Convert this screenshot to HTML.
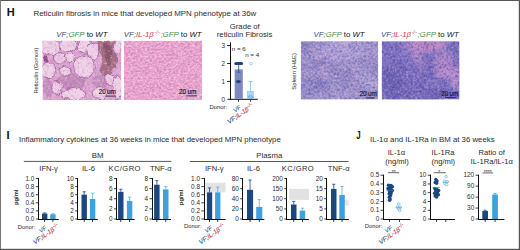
<!DOCTYPE html>
<html><head><meta charset="utf-8"><style>
html,body{margin:0;padding:0;background:#fff;width:520px;height:250px;overflow:hidden}
svg{display:block}
text{font-family:"Liberation Sans",sans-serif}
</style></head><body>
<svg xmlns="http://www.w3.org/2000/svg" width="520" height="250" viewBox="0 0 520 250">
<rect width="520" height="250" fill="#fff"/>
<rect x="0" y="0" width="520" height="1" fill="#555"/>
<rect x="0" y="0" width="1" height="250" fill="#777"/>
<rect x="518.8" y="0" width="1.2" height="250" fill="#555"/>
<rect x="0" y="248.8" width="520" height="1.2" fill="#555"/>
<text x="6.8" y="16.1" font-size="11" text-anchor="start" fill="#111" font-weight="bold"  >H</text>
<text x="33.5" y="15.8" font-size="7.9" text-anchor="start" fill="#2a2a2a" font-weight="normal"  >Reticulin fibrosis in mice that developed MPN phenotype at 36w</text>
<text x="56.3" y="36.6" font-size="7.8" fill="#2a2a2a"><tspan font-style="italic" fill="#34507e">VF;</tspan><tspan font-style="italic" fill="#3f8f48">GFP</tspan><tspan fill="#111"> to </tspan><tspan font-style="italic" fill="#111">WT</tspan></text>
<text x="123.8" y="37.2" font-size="7.8" fill="#2a2a2a"><tspan font-style="italic" fill="#34507e">VF;</tspan><tspan font-style="italic" fill="#c83a54">IL-1β</tspan><tspan font-style="italic" fill="#c83a54" font-size="5" dx="0.6" dy="-3.6" letter-spacing="0.3">-/-</tspan><tspan font-style="italic" fill="#3f8f48" dx="0.4" dy="3.6">;GFP</tspan><tspan fill="#111"> to </tspan><tspan font-style="italic" fill="#111">WT</tspan></text>
<text x="313.5" y="36.6" font-size="7.8" fill="#2a2a2a"><tspan font-style="italic" fill="#34507e">VF;</tspan><tspan font-style="italic" fill="#3f8f48">GFP</tspan><tspan fill="#111"> to </tspan><tspan font-style="italic" fill="#111">WT</tspan></text>
<text x="381" y="37.2" font-size="7.8" fill="#2a2a2a"><tspan font-style="italic" fill="#34507e">VF;</tspan><tspan font-style="italic" fill="#c83a54">IL-1β</tspan><tspan font-style="italic" fill="#c83a54" font-size="5" dx="0.6" dy="-3.6" letter-spacing="0.3">-/-</tspan><tspan font-style="italic" fill="#3f8f48" dx="0.4" dy="3.6">;GFP</tspan><tspan fill="#111"> to </tspan><tspan font-style="italic" fill="#111">WT</tspan></text>
<text transform="translate(38.3,70.6) rotate(-90)" font-size="5.7" text-anchor="middle" fill="#2a2a2a">Reticulin (Gomori)</text>
<text transform="translate(295.8,71.3) rotate(-90)" font-size="6.0" text-anchor="middle" fill="#2a2a2a">Spleen (H&amp;E)</text>
<defs><clipPath id="cr1"><rect x="42.4" y="40.8" width="78.8" height="59.2"/></clipPath>
<filter id="fr1" x="0" y="0" width="100%" height="100%" color-interpolation-filters="sRGB">
<feTurbulence type="fractalNoise" baseFrequency="0.4" numOctaves="2" seed="3" result="n"/>
<feColorMatrix type="matrix" in="n" values="0 0 0 0 0  0 0 0 0 0  0 0 0 0 0  1.2 0 0 0 -0.6" result="a1"/>
<feColorMatrix type="matrix" in="n" values="0 0 0 0 0  0 0 0 0 0  0 0 0 0 0  -1.2 0 0 0 0.6" result="a2"/>
<feFlood flood-color="#f6daee" result="cl"/>
<feComposite in="cl" in2="a1" operator="in" result="L"/>
<feFlood flood-color="#b070a6" result="cd"/>
<feComposite in="cd" in2="a2" operator="in" result="D"/>
<feMerge result="m1"><feMergeNode in="SourceGraphic"/><feMergeNode in="L"/><feMergeNode in="D"/></feMerge>
<feTurbulence type="fractalNoise" baseFrequency="0.09" numOctaves="3" seed="14" result="n2"/>
<feColorMatrix type="matrix" in="n2" values="0 0 0 0 0  0 0 0 0 0  0 0 0 0 0  0.5 0 0 0 -0.25" result="b1"/>
<feColorMatrix type="matrix" in="n2" values="0 0 0 0 0  0 0 0 0 0  0 0 0 0 0  -0.5 0 0 0 0.25" result="b2"/>
<feComposite in="cl" in2="b1" operator="in" result="L2"/>
<feComposite in="cd" in2="b2" operator="in" result="D2"/>
<feMerge><feMergeNode in="m1"/><feMergeNode in="L2"/><feMergeNode in="D2"/></feMerge>
</filter>
<filter id="br1" x="-20%" y="-20%" width="140%" height="140%"><feTurbulence type="fractalNoise" baseFrequency="0.15" numOctaves="2" seed="6" result="dt"/><feDisplacementMap in="SourceGraphic" in2="dt" scale="5" xChannelSelector="R" yChannelSelector="G" result="dd"/><feGaussianBlur in="dd" stdDeviation="0.55"/></filter>
<filter id="hr1" x="-20%" y="-20%" width="140%" height="140%"><feGaussianBlur stdDeviation="0.7"/></filter></defs>
<g clip-path="url(#cr1)"><g filter="url(#fr1)"><rect x="42.4" y="40.8" width="78.8" height="59.2" fill="#dca6d2"/><g filter="url(#br1)"><ellipse cx="72" cy="81" rx="14" ry="8" fill="#c28cba"/><ellipse cx="48" cy="88" rx="5" ry="10" fill="#c48ebc"/><ellipse cx="100" cy="82" rx="8" ry="7" fill="#c690be"/><path d="M96,41 L116,41 L117,60 C116,67 113,72 108,76 C104,77 100,74 100,70 C101,66 103,62 102,57 C100,52 97,47 96,41Z" fill="#a26c7e"/><path d="M103,42 C107,42 111,43 112,48 C113,55 112,62 109,67 C106,63 105,57 104,52 C103,48 103,45 103,42Z" fill="#865064"/><ellipse cx="45.5" cy="59" rx="3.2" ry="3.5" fill="#8a4a88"/><ellipse cx="50" cy="47" rx="10.4" ry="7.8" fill="#f0d2e8" stroke="#a45e9c" stroke-width="0.9"/><ellipse cx="68" cy="45" rx="9.1" ry="6.5" fill="#f0d2e8" stroke="#a45e9c" stroke-width="0.9"/><ellipse cx="60" cy="58" rx="6.5" ry="5.2" fill="#f0d2e8" stroke="#a45e9c" stroke-width="0.9"/><ellipse cx="85" cy="46" rx="7.8" ry="7.2" fill="#f0d2e8" stroke="#a45e9c" stroke-width="0.9"/><ellipse cx="93" cy="51" rx="5.9" ry="8.5" fill="#f0d2e8" stroke="#a45e9c" stroke-width="0.9"/><ellipse cx="84" cy="67" rx="10.4" ry="11.7" fill="#f0d2e8" stroke="#a45e9c" stroke-width="0.9"/><ellipse cx="48" cy="70" rx="7.8" ry="7.8" fill="#f0d2e8" stroke="#a45e9c" stroke-width="0.9"/><ellipse cx="65" cy="71" rx="5.2" ry="5.2" fill="#f0d2e8" stroke="#a45e9c" stroke-width="0.9"/><ellipse cx="110" cy="80" rx="5.2" ry="6.5" fill="#f0d2e8" stroke="#a45e9c" stroke-width="0.9"/><ellipse cx="117.5" cy="87" rx="4.9" ry="11.7" fill="#f0d2e8" stroke="#a45e9c" stroke-width="0.9"/><ellipse cx="74" cy="94" rx="11.7" ry="6.5" fill="#f0d2e8" stroke="#a45e9c" stroke-width="0.9"/><ellipse cx="57" cy="88" rx="5.2" ry="6.5" fill="#f0d2e8" stroke="#a45e9c" stroke-width="0.9"/><ellipse cx="100" cy="93" rx="7.8" ry="6.5" fill="#f0d2e8" stroke="#a45e9c" stroke-width="0.9"/><ellipse cx="117.5" cy="47" rx="3.9" ry="7.8" fill="#f0d2e8" stroke="#a45e9c" stroke-width="0.9"/><ellipse cx="70" cy="57" rx="4.5" ry="4.5" fill="#f0d2e8" stroke="#a45e9c" stroke-width="0.9"/></g><g filter="url(#hr1)"></g></g></g>
<defs><clipPath id="cr2"><rect x="124" y="40.8" width="78" height="59.2"/></clipPath>
<filter id="fr2" x="0" y="0" width="100%" height="100%" color-interpolation-filters="sRGB">
<feTurbulence type="fractalNoise" baseFrequency="0.42 0.55" numOctaves="2" seed="5" result="n"/>
<feColorMatrix type="matrix" in="n" values="0 0 0 0 0  0 0 0 0 0  0 0 0 0 0  2.2 0 0 0 -1.1" result="a1"/>
<feColorMatrix type="matrix" in="n" values="0 0 0 0 0  0 0 0 0 0  0 0 0 0 0  -2.2 0 0 0 1.1" result="a2"/>
<feFlood flood-color="#fcd8ee" result="cl"/>
<feComposite in="cl" in2="a1" operator="in" result="L"/>
<feFlood flood-color="#c674ac" result="cd"/>
<feComposite in="cd" in2="a2" operator="in" result="D"/>
<feMerge result="m1"><feMergeNode in="SourceGraphic"/><feMergeNode in="L"/><feMergeNode in="D"/></feMerge>
<feTurbulence type="fractalNoise" baseFrequency="0.12" numOctaves="3" seed="16" result="n2"/>
<feColorMatrix type="matrix" in="n2" values="0 0 0 0 0  0 0 0 0 0  0 0 0 0 0  0.4 0 0 0 -0.2" result="b1"/>
<feColorMatrix type="matrix" in="n2" values="0 0 0 0 0  0 0 0 0 0  0 0 0 0 0  -0.4 0 0 0 0.2" result="b2"/>
<feComposite in="cl" in2="b1" operator="in" result="L2"/>
<feComposite in="cd" in2="b2" operator="in" result="D2"/>
<feMerge><feMergeNode in="m1"/><feMergeNode in="L2"/><feMergeNode in="D2"/></feMerge>
</filter>
<filter id="br2" x="-20%" y="-20%" width="140%" height="140%"><feTurbulence type="fractalNoise" baseFrequency="0.1" numOctaves="2" seed="8" result="dt"/><feDisplacementMap in="SourceGraphic" in2="dt" scale="0" xChannelSelector="R" yChannelSelector="G" result="dd"/><feGaussianBlur in="dd" stdDeviation="1.2"/></filter>
<filter id="hr2" x="-20%" y="-20%" width="140%" height="140%"><feGaussianBlur stdDeviation="0.7"/></filter></defs>
<g clip-path="url(#cr2)"><g filter="url(#fr2)"><rect x="124" y="40.8" width="78" height="59.2" fill="#e8a4ce"/><g filter="url(#br2)"></g><g filter="url(#hr2)"></g></g></g>
<defs><clipPath id="cs1"><rect x="300.8" y="41.2" width="77.4" height="58.4"/></clipPath>
<filter id="fs1" x="0" y="0" width="100%" height="100%" color-interpolation-filters="sRGB">
<feTurbulence type="fractalNoise" baseFrequency="0.45" numOctaves="2" seed="7" result="n"/>
<feColorMatrix type="matrix" in="n" values="0 0 0 0 0  0 0 0 0 0  0 0 0 0 0  1.7 0 0 0 -0.85" result="a1"/>
<feColorMatrix type="matrix" in="n" values="0 0 0 0 0  0 0 0 0 0  0 0 0 0 0  -1.7 0 0 0 0.85" result="a2"/>
<feFlood flood-color="#e8c2e4" result="cl"/>
<feComposite in="cl" in2="a1" operator="in" result="L"/>
<feFlood flood-color="#5a4ca6" result="cd"/>
<feComposite in="cd" in2="a2" operator="in" result="D"/>
<feMerge result="m1"><feMergeNode in="SourceGraphic"/><feMergeNode in="L"/><feMergeNode in="D"/></feMerge>
<feTurbulence type="fractalNoise" baseFrequency="0.1" numOctaves="3" seed="18" result="n2"/>
<feColorMatrix type="matrix" in="n2" values="0 0 0 0 0  0 0 0 0 0  0 0 0 0 0  0.7 0 0 0 -0.35" result="b1"/>
<feColorMatrix type="matrix" in="n2" values="0 0 0 0 0  0 0 0 0 0  0 0 0 0 0  -0.7 0 0 0 0.35" result="b2"/>
<feComposite in="cl" in2="b1" operator="in" result="L2"/>
<feComposite in="cd" in2="b2" operator="in" result="D2"/>
<feMerge><feMergeNode in="m1"/><feMergeNode in="L2"/><feMergeNode in="D2"/></feMerge>
</filter>
<filter id="bs1" x="-20%" y="-20%" width="140%" height="140%"><feTurbulence type="fractalNoise" baseFrequency="0.1" numOctaves="2" seed="10" result="dt"/><feDisplacementMap in="SourceGraphic" in2="dt" scale="0" xChannelSelector="R" yChannelSelector="G" result="dd"/><feGaussianBlur in="dd" stdDeviation="4"/></filter>
<filter id="hs1" x="-20%" y="-20%" width="140%" height="140%"><feGaussianBlur stdDeviation="0.7"/></filter></defs>
<g clip-path="url(#cs1)"><g filter="url(#fs1)"><rect x="300.8" y="41.2" width="77.4" height="58.4" fill="#9a90c8"/><g filter="url(#bs1)"><ellipse cx="342" cy="50" rx="22" ry="11" fill="#aca0d6"/><ellipse cx="314" cy="86" rx="14" ry="12" fill="#8c84c6"/><ellipse cx="366" cy="80" rx="10" ry="12" fill="#a49cd2"/></g><g filter="url(#hs1)"></g></g></g>
<defs><clipPath id="cs2"><rect x="381.8" y="41.2" width="77.7" height="58.4"/></clipPath>
<filter id="fs2" x="0" y="0" width="100%" height="100%" color-interpolation-filters="sRGB">
<feTurbulence type="fractalNoise" baseFrequency="0.45" numOctaves="2" seed="9" result="n"/>
<feColorMatrix type="matrix" in="n" values="0 0 0 0 0  0 0 0 0 0  0 0 0 0 0  1.6 0 0 0 -0.8" result="a1"/>
<feColorMatrix type="matrix" in="n" values="0 0 0 0 0  0 0 0 0 0  0 0 0 0 0  -1.6 0 0 0 0.8" result="a2"/>
<feFlood flood-color="#cca8e0" result="cl"/>
<feComposite in="cl" in2="a1" operator="in" result="L"/>
<feFlood flood-color="#46389a" result="cd"/>
<feComposite in="cd" in2="a2" operator="in" result="D"/>
<feMerge result="m1"><feMergeNode in="SourceGraphic"/><feMergeNode in="L"/><feMergeNode in="D"/></feMerge>
<feTurbulence type="fractalNoise" baseFrequency="0.1" numOctaves="3" seed="20" result="n2"/>
<feColorMatrix type="matrix" in="n2" values="0 0 0 0 0  0 0 0 0 0  0 0 0 0 0  0.6 0 0 0 -0.3" result="b1"/>
<feColorMatrix type="matrix" in="n2" values="0 0 0 0 0  0 0 0 0 0  0 0 0 0 0  -0.6 0 0 0 0.3" result="b2"/>
<feComposite in="cl" in2="b1" operator="in" result="L2"/>
<feComposite in="cd" in2="b2" operator="in" result="D2"/>
<feMerge><feMergeNode in="m1"/><feMergeNode in="L2"/><feMergeNode in="D2"/></feMerge>
</filter>
<filter id="bs2" x="-20%" y="-20%" width="140%" height="140%"><feTurbulence type="fractalNoise" baseFrequency="0.1" numOctaves="2" seed="12" result="dt"/><feDisplacementMap in="SourceGraphic" in2="dt" scale="0" xChannelSelector="R" yChannelSelector="G" result="dd"/><feGaussianBlur in="dd" stdDeviation="2.5"/></filter>
<filter id="hs2" x="-20%" y="-20%" width="140%" height="140%"><feGaussianBlur stdDeviation="0.7"/></filter></defs>
<g clip-path="url(#cs2)"><g filter="url(#fs2)"><rect x="381.8" y="41.2" width="77.7" height="58.4" fill="#7e72c0"/><g filter="url(#bs2)"><ellipse cx="426" cy="45" rx="20" ry="7" fill="#c890c8"/><path d="M405,41 L414,41 L424,66 L417,68Z" fill="#b089c8"/><ellipse cx="444" cy="66" rx="10" ry="13" fill="#b08ac8"/><ellipse cx="455" cy="78" rx="5" ry="12" fill="#b890cc"/><ellipse cx="394" cy="80" rx="15" ry="20" fill="#6e66b6"/><ellipse cx="420" cy="94" rx="25" ry="7" fill="#7266b6"/><path d="M418,75 L432,60 L436,64 L424,82Z" fill="#7066b6"/></g><g filter="url(#hs2)"></g></g></g>
<text transform="translate(115.9,94.2) scale(1,1.18)" font-size="6.4" text-anchor="end" fill="#1a1430" stroke="#1a1430" stroke-width="0.15">20 um</text>
<rect x="105.8" y="95.6" width="9.900000000000006" height="1" fill="#1a1430" opacity="0.8"/>
<text transform="translate(196.3,93.6) scale(1,1.18)" font-size="6.4" text-anchor="end" fill="#1a1430" stroke="#1a1430" stroke-width="0.15">20 um</text>
<rect x="186.2" y="95.4" width="10.800000000000011" height="1" fill="#1a1430" opacity="0.8"/>
<text transform="translate(376.8,95.8) scale(1,1.18)" font-size="6.4" text-anchor="end" fill="#1a1430" stroke="#1a1430" stroke-width="0.15">20 um</text>
<rect x="365.5" y="97.4" width="9.300000000000011" height="1" fill="#1a1430" opacity="0.8"/>
<text transform="translate(458.4,95.8) scale(1,1.18)" font-size="6.4" text-anchor="end" fill="#1a1430" stroke="#1a1430" stroke-width="0.15">20 um</text>
<rect x="445" y="97.1" width="10.800000000000011" height="1" fill="#1a1430" opacity="0.8"/>
<text x="244.8" y="28.8" font-size="7.7" text-anchor="middle" fill="#2a2a2a" font-weight="normal"  >Grade of</text>
<text x="244.6" y="37.3" font-size="7.7" text-anchor="middle" fill="#2a2a2a" font-weight="normal"  >reticulin Fibrosis</text>
<rect x="230" y="42.4" width="1" height="57.4" fill="#111"/>
<rect x="227.4" y="98.8" width="30.400000000000006" height="1" fill="#111"/>
<text x="225" y="101.5" font-size="6.3" text-anchor="end" fill="#2a2a2a" font-weight="normal"  >0</text>
<rect x="227" y="80.95" width="3" height="0.9" fill="#111"/>
<text x="225" y="83.60000000000001" font-size="6.3" text-anchor="end" fill="#2a2a2a" font-weight="normal"  >1</text>
<rect x="227" y="63.05" width="3" height="0.9" fill="#111"/>
<text x="225" y="65.7" font-size="6.3" text-anchor="end" fill="#2a2a2a" font-weight="normal"  >2</text>
<rect x="227" y="45.15" width="3" height="0.9" fill="#111"/>
<text x="225" y="47.800000000000004" font-size="6.3" text-anchor="end" fill="#2a2a2a" font-weight="normal"  >3</text>
<rect x="234.7" y="69.407" width="8.1" height="29.392999999999997" fill="#7f88bf"/>
<rect x="247.4" y="91.245" width="6.2" height="7.555" fill="#aed6f2" stroke="#78bce8" stroke-width="0.4"/>
<line x1="238.7" y1="72.45" x2="238.7" y2="64.037" stroke="#1b4882" stroke-width="0.8"/>
<line x1="236.8" y1="72.45" x2="240.6" y2="72.45" stroke="#4a5a9a" stroke-width="0.6"/>
<line x1="250.6" y1="91.245" x2="250.6" y2="81.4" stroke="#78bce8" stroke-width="0.8"/>
<line x1="248.8" y1="81.4" x2="252.5" y2="81.4" stroke="#78bce8" stroke-width="0.8"/>
<rect x="234.3" y="62.0" width="8.8" height="3.0" rx="1.5" fill="#1b4882"/>
<ellipse cx="238.3" cy="81.4" rx="2.5" ry="1.5" fill="#1b4882"/>
<circle cx="251.1" cy="63.5" r="1.25" fill="none" stroke="#78bce8" stroke-width="0.7"/>
<ellipse cx="250.5" cy="97.152" rx="2.4" ry="1.3" fill="#9ccff0" stroke="#4a9ad8" stroke-width="0.6"/>
<text x="231.8" y="50.8" font-size="6.2" text-anchor="start" fill="#2a2a2a" font-weight="normal"  >n = 6</text>
<text x="245.2" y="57.1" font-size="6.2" text-anchor="start" fill="#2a2a2a" font-weight="normal"  >n = 4</text>
<rect x="238.2" y="99.8" width="0.8" height="2" fill="#111"/>
<rect x="250.3" y="99.8" width="0.8" height="2" fill="#111"/>
<text x="227.2" y="109.2" font-size="5.9" text-anchor="end" fill="#2a2a2a" font-weight="normal"  >Donor:</text>
<text transform="translate(241.30,108.40) rotate(-35)" font-size="6" text-anchor="end" font-style="italic" fill="#34507e" stroke="#34507e" stroke-width="0.05">VF</text>
<text transform="translate(254.00,106.80) rotate(-35)" font-size="6.3" text-anchor="end" font-style="italic" stroke-width="0.12"><tspan fill="#34507e" stroke="#34507e">VF;</tspan><tspan fill="#c83a54" stroke="#c83a54">IL-1β</tspan><tspan fill="#c83a54" stroke="#c83a54" font-size="4.8" dy="-2.4" dx="0.4" letter-spacing="0.3">-/-</tspan></text>
<text x="6.6" y="138.7" font-size="11" text-anchor="start" fill="#111" font-weight="bold"  >I</text>
<text x="19" y="142.1" font-size="7.8" text-anchor="start" fill="#2a2a2a" font-weight="normal"  >Inflammatory cytokines at 36 weeks in mice that developed MPN phenotype</text>
<text x="97.7" y="158.2" font-size="7.8" text-anchor="middle" fill="#2a2a2a" font-weight="normal"  >BM</text>
<rect x="23.8" y="160.9" width="147.6" height="0.9" fill="#444"/>
<text x="269.3" y="158.2" font-size="7.8" text-anchor="middle" fill="#2a2a2a" font-weight="normal"  >Plasma</text>
<rect x="189.8" y="161.1" width="158.7" height="0.9" fill="#444"/>
<text x="48.6" y="170.8" font-size="7.6" text-anchor="middle" fill="#2a2a2a" font-weight="normal"  >IFN-γ</text>
<rect x="38" y="178.0" width="1" height="42.00000000000001" fill="#111"/>
<rect x="38" y="219.0" width="20.799999999999997" height="1" fill="#111"/>
<rect x="35.8" y="218.6" width="2.6" height="0.8" fill="#111"/>
<text x="34.4" y="221.25" font-size="6.4" text-anchor="end" fill="#2a2a2a" font-weight="normal"  >0.0</text>
<rect x="35.8" y="210.51999999999998" width="2.6" height="0.8" fill="#111"/>
<text x="34.4" y="213.17" font-size="6.4" text-anchor="end" fill="#2a2a2a" font-weight="normal"  >0.2</text>
<rect x="35.8" y="202.44" width="2.6" height="0.8" fill="#111"/>
<text x="34.4" y="205.09" font-size="6.4" text-anchor="end" fill="#2a2a2a" font-weight="normal"  >0.4</text>
<rect x="35.8" y="194.35999999999999" width="2.6" height="0.8" fill="#111"/>
<text x="34.4" y="197.01" font-size="6.4" text-anchor="end" fill="#2a2a2a" font-weight="normal"  >0.6</text>
<rect x="35.8" y="186.28" width="2.6" height="0.8" fill="#111"/>
<text x="34.4" y="188.93" font-size="6.4" text-anchor="end" fill="#2a2a2a" font-weight="normal"  >0.8</text>
<rect x="35.8" y="178.2" width="2.6" height="0.8" fill="#111"/>
<text x="34.4" y="180.85" font-size="6.4" text-anchor="end" fill="#2a2a2a" font-weight="normal"  >1.0</text>
<line x1="44.7" y1="213.546" x2="44.7" y2="212.94" stroke="#1f3f78" stroke-width="0.8"/>
<line x1="43.1" y1="212.94" x2="46.300000000000004" y2="212.94" stroke="#1f3f78" stroke-width="0.8"/>
<rect x="42.0" y="213.546" width="5.4" height="5.454000000000008" fill="#1b4882"/>
<rect x="44.300000000000004" y="220.0" width="0.8" height="2" fill="#111"/>
<line x1="52.900000000000006" y1="214.2328" x2="52.900000000000006" y2="213.6268" stroke="#5ab0e6" stroke-width="0.8"/>
<line x1="51.300000000000004" y1="213.6268" x2="54.50000000000001" y2="213.6268" stroke="#5ab0e6" stroke-width="0.8"/>
<rect x="50.2" y="214.2328" width="5.4" height="4.7672000000000025" fill="#3ea0dc"/>
<rect x="52.50000000000001" y="220.0" width="0.8" height="2" fill="#111"/>
<text x="88.5" y="170.8" font-size="7.6" text-anchor="middle" fill="#2a2a2a" font-weight="normal"  >IL-6</text>
<rect x="77" y="178.0" width="1" height="42.00000000000001" fill="#111"/>
<rect x="77" y="219.0" width="20.799999999999997" height="1" fill="#111"/>
<rect x="75.2" y="218.6" width="2.6" height="0.8" fill="#111"/>
<text x="73.8" y="221.25" font-size="6.4" text-anchor="end" fill="#2a2a2a" font-weight="normal"  >0</text>
<rect x="75.2" y="210.51999999999998" width="2.6" height="0.8" fill="#111"/>
<text x="73.8" y="213.17" font-size="6.4" text-anchor="end" fill="#2a2a2a" font-weight="normal"  >2</text>
<rect x="75.2" y="202.44" width="2.6" height="0.8" fill="#111"/>
<text x="73.8" y="205.09" font-size="6.4" text-anchor="end" fill="#2a2a2a" font-weight="normal"  >4</text>
<rect x="75.2" y="194.35999999999999" width="2.6" height="0.8" fill="#111"/>
<text x="73.8" y="197.01" font-size="6.4" text-anchor="end" fill="#2a2a2a" font-weight="normal"  >6</text>
<rect x="75.2" y="186.28" width="2.6" height="0.8" fill="#111"/>
<text x="73.8" y="188.93" font-size="6.4" text-anchor="end" fill="#2a2a2a" font-weight="normal"  >8</text>
<rect x="75.2" y="178.2" width="2.6" height="0.8" fill="#111"/>
<text x="73.8" y="180.85" font-size="6.4" text-anchor="end" fill="#2a2a2a" font-weight="normal"  >10</text>
<line x1="84.2" y1="194.5984" x2="84.2" y2="191.7704" stroke="#1f3f78" stroke-width="0.8"/>
<line x1="82.60000000000001" y1="191.7704" x2="85.8" y2="191.7704" stroke="#1f3f78" stroke-width="0.8"/>
<rect x="81.5" y="194.5984" width="5.4" height="24.401600000000002" fill="#1b4882"/>
<rect x="83.8" y="220.0" width="0.8" height="2" fill="#111"/>
<line x1="92.60000000000001" y1="199.002" x2="92.60000000000001" y2="193.18439999999998" stroke="#5ab0e6" stroke-width="0.8"/>
<line x1="91.00000000000001" y1="193.18439999999998" x2="94.2" y2="193.18439999999998" stroke="#5ab0e6" stroke-width="0.8"/>
<rect x="89.9" y="199.002" width="5.4" height="19.99799999999999" fill="#3ea0dc"/>
<rect x="92.2" y="220.0" width="0.8" height="2" fill="#111"/>
<text x="124.7" y="170.8" font-size="7.6" text-anchor="middle" fill="#2a2a2a" font-weight="normal"  letter-spacing="0.4">KC/GRO</text>
<rect x="116" y="178.0" width="1" height="42.00000000000001" fill="#111"/>
<rect x="116" y="219.0" width="18.69999999999999" height="1" fill="#111"/>
<rect x="114.0" y="218.6" width="2.6" height="0.8" fill="#111"/>
<text x="112.6" y="221.25" font-size="6.4" text-anchor="end" fill="#2a2a2a" font-weight="normal"  >0</text>
<rect x="114.0" y="208.5" width="2.6" height="0.8" fill="#111"/>
<text x="112.6" y="211.15" font-size="6.4" text-anchor="end" fill="#2a2a2a" font-weight="normal"  >2</text>
<rect x="114.0" y="198.4" width="2.6" height="0.8" fill="#111"/>
<text x="112.6" y="201.05" font-size="6.4" text-anchor="end" fill="#2a2a2a" font-weight="normal"  >4</text>
<rect x="114.0" y="188.29999999999998" width="2.6" height="0.8" fill="#111"/>
<text x="112.6" y="190.95" font-size="6.4" text-anchor="end" fill="#2a2a2a" font-weight="normal"  >6</text>
<rect x="114.0" y="178.2" width="2.6" height="0.8" fill="#111"/>
<text x="112.6" y="180.85" font-size="6.4" text-anchor="end" fill="#2a2a2a" font-weight="normal"  >8</text>
<line x1="120.8" y1="191.8815" x2="120.8" y2="189.20499999999998" stroke="#1f3f78" stroke-width="0.8"/>
<line x1="119.2" y1="189.20499999999998" x2="122.39999999999999" y2="189.20499999999998" stroke="#1f3f78" stroke-width="0.8"/>
<rect x="118.1" y="191.8815" width="5.4" height="27.11850000000001" fill="#1b4882"/>
<rect x="120.39999999999999" y="220.0" width="0.8" height="2" fill="#111"/>
<line x1="129.6" y1="200.921" x2="129.6" y2="197.2345" stroke="#5ab0e6" stroke-width="0.8"/>
<line x1="128.0" y1="197.2345" x2="131.2" y2="197.2345" stroke="#5ab0e6" stroke-width="0.8"/>
<rect x="126.89999999999999" y="200.921" width="5.4" height="18.079000000000008" fill="#3ea0dc"/>
<rect x="129.2" y="220.0" width="0.8" height="2" fill="#111"/>
<text x="160.8" y="170.8" font-size="7.6" text-anchor="middle" fill="#2a2a2a" font-weight="normal"  >TNF-α</text>
<rect x="152" y="178.0" width="1" height="42.00000000000001" fill="#111"/>
<rect x="152" y="219.0" width="19" height="1" fill="#111"/>
<rect x="149.4" y="218.6" width="2.6" height="0.8" fill="#111"/>
<text x="148.0" y="221.25" font-size="6.4" text-anchor="end" fill="#2a2a2a" font-weight="normal"  >0</text>
<rect x="149.4" y="208.5" width="2.6" height="0.8" fill="#111"/>
<text x="148.0" y="211.15" font-size="6.4" text-anchor="end" fill="#2a2a2a" font-weight="normal"  >2</text>
<rect x="149.4" y="198.4" width="2.6" height="0.8" fill="#111"/>
<text x="148.0" y="201.05" font-size="6.4" text-anchor="end" fill="#2a2a2a" font-weight="normal"  >4</text>
<rect x="149.4" y="188.29999999999998" width="2.6" height="0.8" fill="#111"/>
<text x="148.0" y="190.95" font-size="6.4" text-anchor="end" fill="#2a2a2a" font-weight="normal"  >6</text>
<rect x="149.4" y="178.2" width="2.6" height="0.8" fill="#111"/>
<text x="148.0" y="180.85" font-size="6.4" text-anchor="end" fill="#2a2a2a" font-weight="normal"  >8</text>
<line x1="156.85" y1="184.7105" x2="156.85" y2="180.62" stroke="#1f3f78" stroke-width="0.8"/>
<line x1="155.25" y1="180.62" x2="158.45" y2="180.62" stroke="#1f3f78" stroke-width="0.8"/>
<rect x="154.1" y="184.7105" width="5.5" height="34.289500000000004" fill="#1b4882"/>
<rect x="156.45" y="220.0" width="0.8" height="2" fill="#111"/>
<line x1="165.75" y1="189.40699999999998" x2="165.75" y2="186.478" stroke="#5ab0e6" stroke-width="0.8"/>
<line x1="164.15" y1="186.478" x2="167.35" y2="186.478" stroke="#5ab0e6" stroke-width="0.8"/>
<rect x="163.0" y="189.40699999999998" width="5.5" height="29.593000000000018" fill="#3ea0dc"/>
<rect x="165.35" y="220.0" width="0.8" height="2" fill="#111"/>
<text x="214.2" y="170.8" font-size="7.6" text-anchor="middle" fill="#2a2a2a" font-weight="normal"  >IFN-γ</text>
<rect x="204" y="178.0" width="1" height="42.00000000000001" fill="#111"/>
<rect x="204" y="219.0" width="21.599999999999994" height="1" fill="#111"/>
<rect x="201.4" y="218.6" width="2.6" height="0.8" fill="#111"/>
<text x="200.0" y="221.25" font-size="6.4" text-anchor="end" fill="#2a2a2a" font-weight="normal"  >0.0</text>
<rect x="201.4" y="210.51999999999998" width="2.6" height="0.8" fill="#111"/>
<text x="200.0" y="213.17" font-size="6.4" text-anchor="end" fill="#2a2a2a" font-weight="normal"  >0.2</text>
<rect x="201.4" y="202.44" width="2.6" height="0.8" fill="#111"/>
<text x="200.0" y="205.09" font-size="6.4" text-anchor="end" fill="#2a2a2a" font-weight="normal"  >0.4</text>
<rect x="201.4" y="194.35999999999999" width="2.6" height="0.8" fill="#111"/>
<text x="200.0" y="197.01" font-size="6.4" text-anchor="end" fill="#2a2a2a" font-weight="normal"  >0.6</text>
<rect x="201.4" y="186.28" width="2.6" height="0.8" fill="#111"/>
<text x="200.0" y="188.93" font-size="6.4" text-anchor="end" fill="#2a2a2a" font-weight="normal"  >0.8</text>
<rect x="201.4" y="178.2" width="2.6" height="0.8" fill="#111"/>
<text x="200.0" y="180.85" font-size="6.4" text-anchor="end" fill="#2a2a2a" font-weight="normal"  >1.0</text>
<rect x="205.5" y="182.64" width="20.099999999999994" height="9.696000000000002" fill="#e2e2e2"/>
<line x1="209.55" y1="192.33599999999998" x2="209.55" y2="187.892" stroke="#1f3f78" stroke-width="0.8"/>
<line x1="207.95000000000002" y1="187.892" x2="211.15" y2="187.892" stroke="#1f3f78" stroke-width="0.8"/>
<rect x="206.9" y="192.33599999999998" width="5.3" height="26.664000000000016" fill="#1b4882"/>
<rect x="209.15" y="220.0" width="0.8" height="2" fill="#111"/>
<line x1="217.75" y1="192.33599999999998" x2="217.75" y2="187.084" stroke="#5ab0e6" stroke-width="0.8"/>
<line x1="216.15" y1="187.084" x2="219.35" y2="187.084" stroke="#5ab0e6" stroke-width="0.8"/>
<rect x="215.1" y="192.33599999999998" width="5.3" height="26.664000000000016" fill="#3ea0dc"/>
<rect x="217.35" y="220.0" width="0.8" height="2" fill="#111"/>
<text x="253.5" y="170.8" font-size="7.6" text-anchor="middle" fill="#2a2a2a" font-weight="normal"  >IL-6</text>
<rect x="242" y="178.0" width="1" height="42.00000000000001" fill="#111"/>
<rect x="242" y="219.0" width="22.30000000000001" height="1" fill="#111"/>
<rect x="240.20000000000002" y="218.6" width="2.6" height="0.8" fill="#111"/>
<text x="238.8" y="221.25" font-size="6.4" text-anchor="end" fill="#2a2a2a" font-weight="normal"  >0</text>
<rect x="240.20000000000002" y="208.5" width="2.6" height="0.8" fill="#111"/>
<text x="238.8" y="211.15" font-size="6.4" text-anchor="end" fill="#2a2a2a" font-weight="normal"  >20</text>
<rect x="240.20000000000002" y="198.4" width="2.6" height="0.8" fill="#111"/>
<text x="238.8" y="201.05" font-size="6.4" text-anchor="end" fill="#2a2a2a" font-weight="normal"  >40</text>
<rect x="240.20000000000002" y="188.29999999999998" width="2.6" height="0.8" fill="#111"/>
<text x="238.8" y="190.95" font-size="6.4" text-anchor="end" fill="#2a2a2a" font-weight="normal"  >60</text>
<rect x="240.20000000000002" y="178.2" width="2.6" height="0.8" fill="#111"/>
<text x="238.8" y="180.85" font-size="6.4" text-anchor="end" fill="#2a2a2a" font-weight="normal"  >80</text>
<line x1="250.05" y1="189.811" x2="250.05" y2="180.014" stroke="#1f3f78" stroke-width="0.8"/>
<line x1="248.45000000000002" y1="180.014" x2="251.65" y2="180.014" stroke="#1f3f78" stroke-width="0.8"/>
<rect x="247.0" y="189.811" width="6.1" height="29.188999999999993" fill="#1b4882"/>
<rect x="249.65" y="220.0" width="0.8" height="2" fill="#111"/>
<line x1="259.25" y1="206.981" x2="259.25" y2="199.608" stroke="#5ab0e6" stroke-width="0.8"/>
<line x1="257.65" y1="199.608" x2="260.85" y2="199.608" stroke="#5ab0e6" stroke-width="0.8"/>
<rect x="256.2" y="206.981" width="6.1" height="12.019000000000005" fill="#3ea0dc"/>
<rect x="258.85" y="220.0" width="0.8" height="2" fill="#111"/>
<text x="298" y="170.8" font-size="7.6" text-anchor="middle" fill="#2a2a2a" font-weight="normal"  letter-spacing="0.4">KC/GRO</text>
<rect x="286" y="178.0" width="1" height="42.00000000000001" fill="#111"/>
<rect x="286" y="219.0" width="22.899999999999977" height="1" fill="#111"/>
<rect x="284.2" y="218.6" width="2.6" height="0.8" fill="#111"/>
<text x="282.8" y="221.25" font-size="6.4" text-anchor="end" fill="#2a2a2a" font-weight="normal"  >0</text>
<rect x="284.2" y="208.5" width="2.6" height="0.8" fill="#111"/>
<text x="282.8" y="211.15" font-size="6.4" text-anchor="end" fill="#2a2a2a" font-weight="normal"  >50</text>
<rect x="284.2" y="198.4" width="2.6" height="0.8" fill="#111"/>
<text x="282.8" y="201.05" font-size="6.4" text-anchor="end" fill="#2a2a2a" font-weight="normal"  >100</text>
<rect x="284.2" y="188.29999999999998" width="2.6" height="0.8" fill="#111"/>
<text x="282.8" y="190.95" font-size="6.4" text-anchor="end" fill="#2a2a2a" font-weight="normal"  >150</text>
<rect x="284.2" y="178.2" width="2.6" height="0.8" fill="#111"/>
<text x="282.8" y="180.85" font-size="6.4" text-anchor="end" fill="#2a2a2a" font-weight="normal"  >200</text>
<rect x="289.2" y="188.902" width="19.69999999999999" height="10.988800000000003" fill="#e2e2e2"/>
<line x1="293.75" y1="204.4964" x2="293.75" y2="201.4058" stroke="#1f3f78" stroke-width="0.8"/>
<line x1="292.15" y1="201.4058" x2="295.35" y2="201.4058" stroke="#1f3f78" stroke-width="0.8"/>
<rect x="291.0" y="204.4964" width="5.5" height="14.503600000000006" fill="#1b4882"/>
<rect x="293.35" y="220.0" width="0.8" height="2" fill="#111"/>
<line x1="302.45" y1="210.5968" x2="302.45" y2="208.19299999999998" stroke="#5ab0e6" stroke-width="0.8"/>
<line x1="300.84999999999997" y1="208.19299999999998" x2="304.05" y2="208.19299999999998" stroke="#5ab0e6" stroke-width="0.8"/>
<rect x="299.7" y="210.5968" width="5.5" height="8.403199999999998" fill="#3ea0dc"/>
<rect x="302.05" y="220.0" width="0.8" height="2" fill="#111"/>
<text x="338.7" y="170.8" font-size="7.6" text-anchor="middle" fill="#2a2a2a" font-weight="normal"  >TNF-α</text>
<rect x="326" y="178.0" width="1" height="42.00000000000001" fill="#111"/>
<rect x="326" y="219.0" width="22.899999999999977" height="1" fill="#111"/>
<rect x="324.2" y="218.6" width="2.6" height="0.8" fill="#111"/>
<text x="322.8" y="221.25" font-size="6.4" text-anchor="end" fill="#2a2a2a" font-weight="normal"  >0</text>
<rect x="324.2" y="208.5" width="2.6" height="0.8" fill="#111"/>
<text x="322.8" y="211.15" font-size="6.4" text-anchor="end" fill="#2a2a2a" font-weight="normal"  >5</text>
<rect x="324.2" y="198.4" width="2.6" height="0.8" fill="#111"/>
<text x="322.8" y="201.05" font-size="6.4" text-anchor="end" fill="#2a2a2a" font-weight="normal"  >10</text>
<rect x="324.2" y="188.29999999999998" width="2.6" height="0.8" fill="#111"/>
<text x="322.8" y="190.95" font-size="6.4" text-anchor="end" fill="#2a2a2a" font-weight="normal"  >15</text>
<rect x="324.2" y="178.2" width="2.6" height="0.8" fill="#111"/>
<text x="322.8" y="180.85" font-size="6.4" text-anchor="end" fill="#2a2a2a" font-weight="normal"  >20</text>
<rect x="341" y="199.81" width="7.899999999999977" height="5.656000000000001" fill="#e6e6ea"/>
<line x1="333.75" y1="188.902" x2="333.75" y2="184.256" stroke="#1f3f78" stroke-width="0.8"/>
<line x1="332.15" y1="184.256" x2="335.35" y2="184.256" stroke="#1f3f78" stroke-width="0.8"/>
<rect x="331.0" y="188.902" width="5.5" height="30.098000000000013" fill="#1b4882"/>
<rect x="333.35" y="220.0" width="0.8" height="2" fill="#111"/>
<line x1="342.05" y1="194.962" x2="342.05" y2="186.478" stroke="#5ab0e6" stroke-width="0.8"/>
<line x1="340.45" y1="186.478" x2="343.65000000000003" y2="186.478" stroke="#5ab0e6" stroke-width="0.8"/>
<rect x="339.3" y="194.962" width="5.5" height="24.03800000000001" fill="#3ea0dc"/>
<rect x="341.65000000000003" y="220.0" width="0.8" height="2" fill="#111"/>
<text transform="translate(18.4,197.3) rotate(-90)" font-size="5.8" font-weight="bold" text-anchor="middle" fill="#2a2a2a">pg/ml</text>
<text transform="translate(183.3,197.4) rotate(-90)" font-size="5.8" font-weight="bold" text-anchor="middle" fill="#2a2a2a">pg/ml</text>
<text x="35.4" y="228.8" font-size="5.9" text-anchor="end" fill="#2a2a2a" font-weight="normal"  >Donor:</text>
<text transform="translate(47.00,228.80) rotate(-35)" font-size="6" text-anchor="end" font-style="italic" fill="#34507e" stroke="#34507e" stroke-width="0.05">VF</text>
<text transform="translate(59.70,227.20) rotate(-35)" font-size="6.3" text-anchor="end" font-style="italic" stroke-width="0.12"><tspan fill="#34507e" stroke="#34507e">VF;</tspan><tspan fill="#c83a54" stroke="#c83a54">IL-1β</tspan><tspan fill="#c83a54" stroke="#c83a54" font-size="4.8" dy="-2.4" dx="0.4" letter-spacing="0.3">-/-</tspan></text>
<text x="201.6" y="228.4" font-size="5.9" text-anchor="end" fill="#2a2a2a" font-weight="normal"  >Donor:</text>
<text transform="translate(212.80,228.80) rotate(-35)" font-size="6" text-anchor="end" font-style="italic" fill="#34507e" stroke="#34507e" stroke-width="0.05">VF</text>
<text transform="translate(225.50,227.20) rotate(-35)" font-size="6.3" text-anchor="end" font-style="italic" stroke-width="0.12"><tspan fill="#34507e" stroke="#34507e">VF;</tspan><tspan fill="#c83a54" stroke="#c83a54">IL-1β</tspan><tspan fill="#c83a54" stroke="#c83a54" font-size="4.8" dy="-2.4" dx="0.4" letter-spacing="0.3">-/-</tspan></text>
<text transform="translate(356.2,138.9) scale(0.72,1)" font-size="11" font-weight="bold" fill="#111">J</text>
<text x="370" y="142.2" font-size="7.8" text-anchor="start" fill="#2a2a2a" font-weight="normal"  >IL-1α and IL-1Ra in BM at 36 weeks</text>
<text x="396.5" y="154.9" font-size="7.6" text-anchor="middle" fill="#2a2a2a" font-weight="normal"  >IL-1α</text>
<text x="397" y="163.6" font-size="7.6" text-anchor="middle" fill="#2a2a2a" font-weight="normal"  >(ng/ml)</text>
<text x="443" y="154.9" font-size="7.6" text-anchor="middle" fill="#2a2a2a" font-weight="normal"  >IL-1Ra</text>
<text x="443.3" y="163.6" font-size="7.6" text-anchor="middle" fill="#2a2a2a" font-weight="normal"  >(ng/ml)</text>
<text x="491.7" y="154.9" font-size="7.6" text-anchor="middle" fill="#2a2a2a" font-weight="normal"  >Ratio of</text>
<text x="491.8" y="163.6" font-size="7.6" text-anchor="middle" fill="#2a2a2a" font-weight="normal"  >IL-1Ra/IL-1α</text>
<rect x="383" y="174.6" width="1" height="45.40000000000001" fill="#111"/>
<rect x="383" y="219.0" width="27.399999999999977" height="1" fill="#111"/>
<rect x="380.59999999999997" y="218.6" width="2.6" height="0.8" fill="#111"/>
<text x="379.2" y="221.25" font-size="6.4" text-anchor="end" fill="#2a2a2a" font-weight="normal"  >0</text>
<rect x="380.59999999999997" y="209.84" width="2.6" height="0.8" fill="#111"/>
<text x="379.2" y="212.49" font-size="6.4" text-anchor="end" fill="#2a2a2a" font-weight="normal"  >0.1</text>
<rect x="380.59999999999997" y="201.07999999999998" width="2.6" height="0.8" fill="#111"/>
<text x="379.2" y="203.73" font-size="6.4" text-anchor="end" fill="#2a2a2a" font-weight="normal"  >0.2</text>
<rect x="380.59999999999997" y="192.32" width="2.6" height="0.8" fill="#111"/>
<text x="379.2" y="194.97" font-size="6.4" text-anchor="end" fill="#2a2a2a" font-weight="normal"  >0.3</text>
<rect x="380.59999999999997" y="183.55999999999997" width="2.6" height="0.8" fill="#111"/>
<text x="379.2" y="186.20999999999998" font-size="6.4" text-anchor="end" fill="#2a2a2a" font-weight="normal"  >0.4</text>
<rect x="380.59999999999997" y="174.79999999999998" width="2.6" height="0.8" fill="#111"/>
<text x="379.2" y="177.45" font-size="6.4" text-anchor="end" fill="#2a2a2a" font-weight="normal"  >0.5</text>
<rect x="389.2" y="220" width="0.8" height="2" fill="#111"/>
<rect x="399.1" y="220" width="0.8" height="2" fill="#111"/>
<circle cx="388.5" cy="185.2" r="1.75" fill="#1b4882"/>
<circle cx="391" cy="185.6" r="1.75" fill="#1b4882"/>
<circle cx="392.4" cy="186.8" r="1.75" fill="#1b4882"/>
<circle cx="389.6" cy="187.4" r="1.75" fill="#1b4882"/>
<circle cx="388" cy="188.4" r="1.75" fill="#1b4882"/>
<circle cx="390.8" cy="189.2" r="1.75" fill="#1b4882"/>
<circle cx="392.3" cy="190.6" r="1.75" fill="#1b4882"/>
<circle cx="389.5" cy="191.4" r="1.75" fill="#1b4882"/>
<circle cx="391.2" cy="193" r="1.75" fill="#1b4882"/>
<circle cx="389.2" cy="194" r="1.75" fill="#1b4882"/>
<circle cx="390.6" cy="195.6" r="1.75" fill="#1b4882"/>
<circle cx="389.3" cy="197.2" r="1.75" fill="#1b4882"/>
<circle cx="390.1" cy="199" r="1.75" fill="#1b4882"/>
<circle cx="389.6" cy="200.2" r="1.75" fill="#1b4882"/>
<line x1="386.5" y1="190.5" x2="393.5" y2="190.5" stroke="#3a6aa8" stroke-width="0.7"/>
<circle cx="398.6" cy="204" r="1.35" fill="#e4f2fc" stroke="#5ab4e8" stroke-width="0.6"/>
<circle cx="397.4" cy="207" r="1.35" fill="#e4f2fc" stroke="#5ab4e8" stroke-width="0.6"/>
<circle cx="400.2" cy="207.4" r="1.35" fill="#e4f2fc" stroke="#5ab4e8" stroke-width="0.6"/>
<circle cx="398.8" cy="209" r="1.35" fill="#e4f2fc" stroke="#5ab4e8" stroke-width="0.6"/>
<circle cx="399.6" cy="210.4" r="1.35" fill="#e4f2fc" stroke="#5ab4e8" stroke-width="0.6"/>
<line x1="396" y1="207.6" x2="402" y2="207.6" stroke="#4aa8e0" stroke-width="0.7"/>
<line x1="387.9" y1="172.7" x2="399.1" y2="172.7" stroke="#555" stroke-width="0.9"/>
<text x="393.8" y="173.6" font-size="5.2" text-anchor="middle" fill="#333" font-weight="normal"  >**</text>
<rect x="430" y="174.6" width="1" height="45.40000000000001" fill="#111"/>
<rect x="430" y="219.0" width="25" height="1" fill="#111"/>
<rect x="427.79999999999995" y="218.6" width="2.6" height="0.8" fill="#111"/>
<text x="426.4" y="221.25" font-size="6.4" text-anchor="end" fill="#2a2a2a" font-weight="normal"  >0</text>
<rect x="427.79999999999995" y="209.84" width="2.6" height="0.8" fill="#111"/>
<text x="426.4" y="212.49" font-size="6.4" text-anchor="end" fill="#2a2a2a" font-weight="normal"  >2</text>
<rect x="427.79999999999995" y="201.07999999999998" width="2.6" height="0.8" fill="#111"/>
<text x="426.4" y="203.73" font-size="6.4" text-anchor="end" fill="#2a2a2a" font-weight="normal"  >4</text>
<rect x="427.79999999999995" y="192.32" width="2.6" height="0.8" fill="#111"/>
<text x="426.4" y="194.97" font-size="6.4" text-anchor="end" fill="#2a2a2a" font-weight="normal"  >6</text>
<rect x="427.79999999999995" y="183.55999999999997" width="2.6" height="0.8" fill="#111"/>
<text x="426.4" y="186.20999999999998" font-size="6.4" text-anchor="end" fill="#2a2a2a" font-weight="normal"  >8</text>
<rect x="427.79999999999995" y="174.79999999999998" width="2.6" height="0.8" fill="#111"/>
<text x="426.4" y="177.45" font-size="6.4" text-anchor="end" fill="#2a2a2a" font-weight="normal"  >10</text>
<rect x="436.2" y="220" width="0.8" height="2" fill="#111"/>
<rect x="445.4" y="220" width="0.8" height="2" fill="#111"/>
<line x1="433.6" y1="172.7" x2="445.8" y2="172.7" stroke="#555" stroke-width="0.9"/>
<text x="439.3" y="173.5" font-size="5.2" text-anchor="middle" fill="#333" font-weight="normal"  >*</text>
<circle cx="435.8" cy="179.4" r="1.75" fill="#1b4882"/>
<circle cx="437" cy="181" r="1.75" fill="#1b4882"/>
<circle cx="435.2" cy="182.4" r="1.75" fill="#1b4882"/>
<circle cx="436.6" cy="183.2" r="1.75" fill="#1b4882"/>
<circle cx="434.8" cy="188.4" r="1.75" fill="#1b4882"/>
<circle cx="436.8" cy="189.4" r="1.75" fill="#1b4882"/>
<circle cx="438.6" cy="190.4" r="1.75" fill="#1b4882"/>
<circle cx="435.6" cy="191" r="1.75" fill="#1b4882"/>
<circle cx="437.4" cy="192.4" r="1.75" fill="#1b4882"/>
<circle cx="434.6" cy="193.2" r="1.75" fill="#1b4882"/>
<circle cx="436.4" cy="194.4" r="1.75" fill="#1b4882"/>
<circle cx="438.4" cy="194.8" r="1.75" fill="#1b4882"/>
<circle cx="435.2" cy="196" r="1.75" fill="#1b4882"/>
<circle cx="436.6" cy="197" r="1.75" fill="#1b4882"/>
<line x1="432.6" y1="187.6" x2="440" y2="187.6" stroke="#3a78c0" stroke-width="0.7"/>
<circle cx="446" cy="176.6" r="1.35" fill="#e4f2fc" stroke="#5ab4e8" stroke-width="0.6"/>
<circle cx="444.6" cy="181.4" r="1.35" fill="#e4f2fc" stroke="#5ab4e8" stroke-width="0.6"/>
<circle cx="447.2" cy="181.6" r="1.35" fill="#e4f2fc" stroke="#5ab4e8" stroke-width="0.6"/>
<circle cx="445.2" cy="183.6" r="1.35" fill="#e4f2fc" stroke="#5ab4e8" stroke-width="0.6"/>
<circle cx="446.6" cy="184.6" r="1.35" fill="#e4f2fc" stroke="#5ab4e8" stroke-width="0.6"/>
<line x1="442.6" y1="182.4" x2="448.6" y2="182.4" stroke="#4aa8e0" stroke-width="0.7"/>
<rect x="478" y="174.6" width="1" height="45.40000000000001" fill="#111"/>
<rect x="478" y="219.0" width="26.399999999999977" height="1" fill="#111"/>
<rect x="475.59999999999997" y="218.6" width="2.6" height="0.8" fill="#111"/>
<text x="474.2" y="221.25" font-size="6.4" text-anchor="end" fill="#2a2a2a" font-weight="normal"  >0</text>
<rect x="475.59999999999997" y="207.65" width="2.6" height="0.8" fill="#111"/>
<text x="474.2" y="210.3" font-size="6.4" text-anchor="end" fill="#2a2a2a" font-weight="normal"  >30</text>
<rect x="475.59999999999997" y="196.7" width="2.6" height="0.8" fill="#111"/>
<text x="474.2" y="199.35" font-size="6.4" text-anchor="end" fill="#2a2a2a" font-weight="normal"  >60</text>
<rect x="475.59999999999997" y="185.74999999999997" width="2.6" height="0.8" fill="#111"/>
<text x="474.2" y="188.39999999999998" font-size="6.4" text-anchor="end" fill="#2a2a2a" font-weight="normal"  >90</text>
<rect x="475.59999999999997" y="174.79999999999998" width="2.6" height="0.8" fill="#111"/>
<text x="474.2" y="177.45" font-size="6.4" text-anchor="end" fill="#2a2a2a" font-weight="normal"  >120</text>
<line x1="485.15000000000003" y1="210.97" x2="485.15000000000003" y2="210.24" stroke="#1b4882" stroke-width="0.8"/>
<line x1="483.6" y1="210.24" x2="486.7" y2="210.24" stroke="#1b4882" stroke-width="0.8"/>
<rect x="482.3" y="210.97" width="5.7" height="8.030000000000001" fill="#1b4882"/>
<rect x="484.75" y="220" width="0.8" height="2" fill="#111"/>
<line x1="495.05" y1="194.545" x2="495.05" y2="193.45" stroke="#3ea0dc" stroke-width="0.8"/>
<line x1="493.5" y1="193.45" x2="496.59999999999997" y2="193.45" stroke="#3ea0dc" stroke-width="0.8"/>
<rect x="492.2" y="194.545" width="5.7" height="24.455000000000013" fill="#3ea0dc"/>
<rect x="494.65" y="220" width="0.8" height="2" fill="#111"/>
<line x1="482.7" y1="172.9" x2="493.1" y2="172.9" stroke="#555" stroke-width="0.9"/>
<text x="487.8" y="173.8" font-size="5.2" text-anchor="middle" fill="#333" font-weight="normal"  >****</text>
<text x="382.4" y="228.4" font-size="5.9" text-anchor="end" fill="#2a2a2a" font-weight="normal"  >Donor:</text>
<text transform="translate(392.70,228.80) rotate(-35)" font-size="6" text-anchor="end" font-style="italic" fill="#34507e" stroke="#34507e" stroke-width="0.05">VF</text>
<text transform="translate(405.40,227.20) rotate(-35)" font-size="6.3" text-anchor="end" font-style="italic" stroke-width="0.12"><tspan fill="#34507e" stroke="#34507e">VF;</tspan><tspan fill="#c83a54" stroke="#c83a54">IL-1β</tspan><tspan fill="#c83a54" stroke="#c83a54" font-size="4.8" dy="-2.4" dx="0.4" letter-spacing="0.3">-/-</tspan></text>
</svg>
</body></html>
